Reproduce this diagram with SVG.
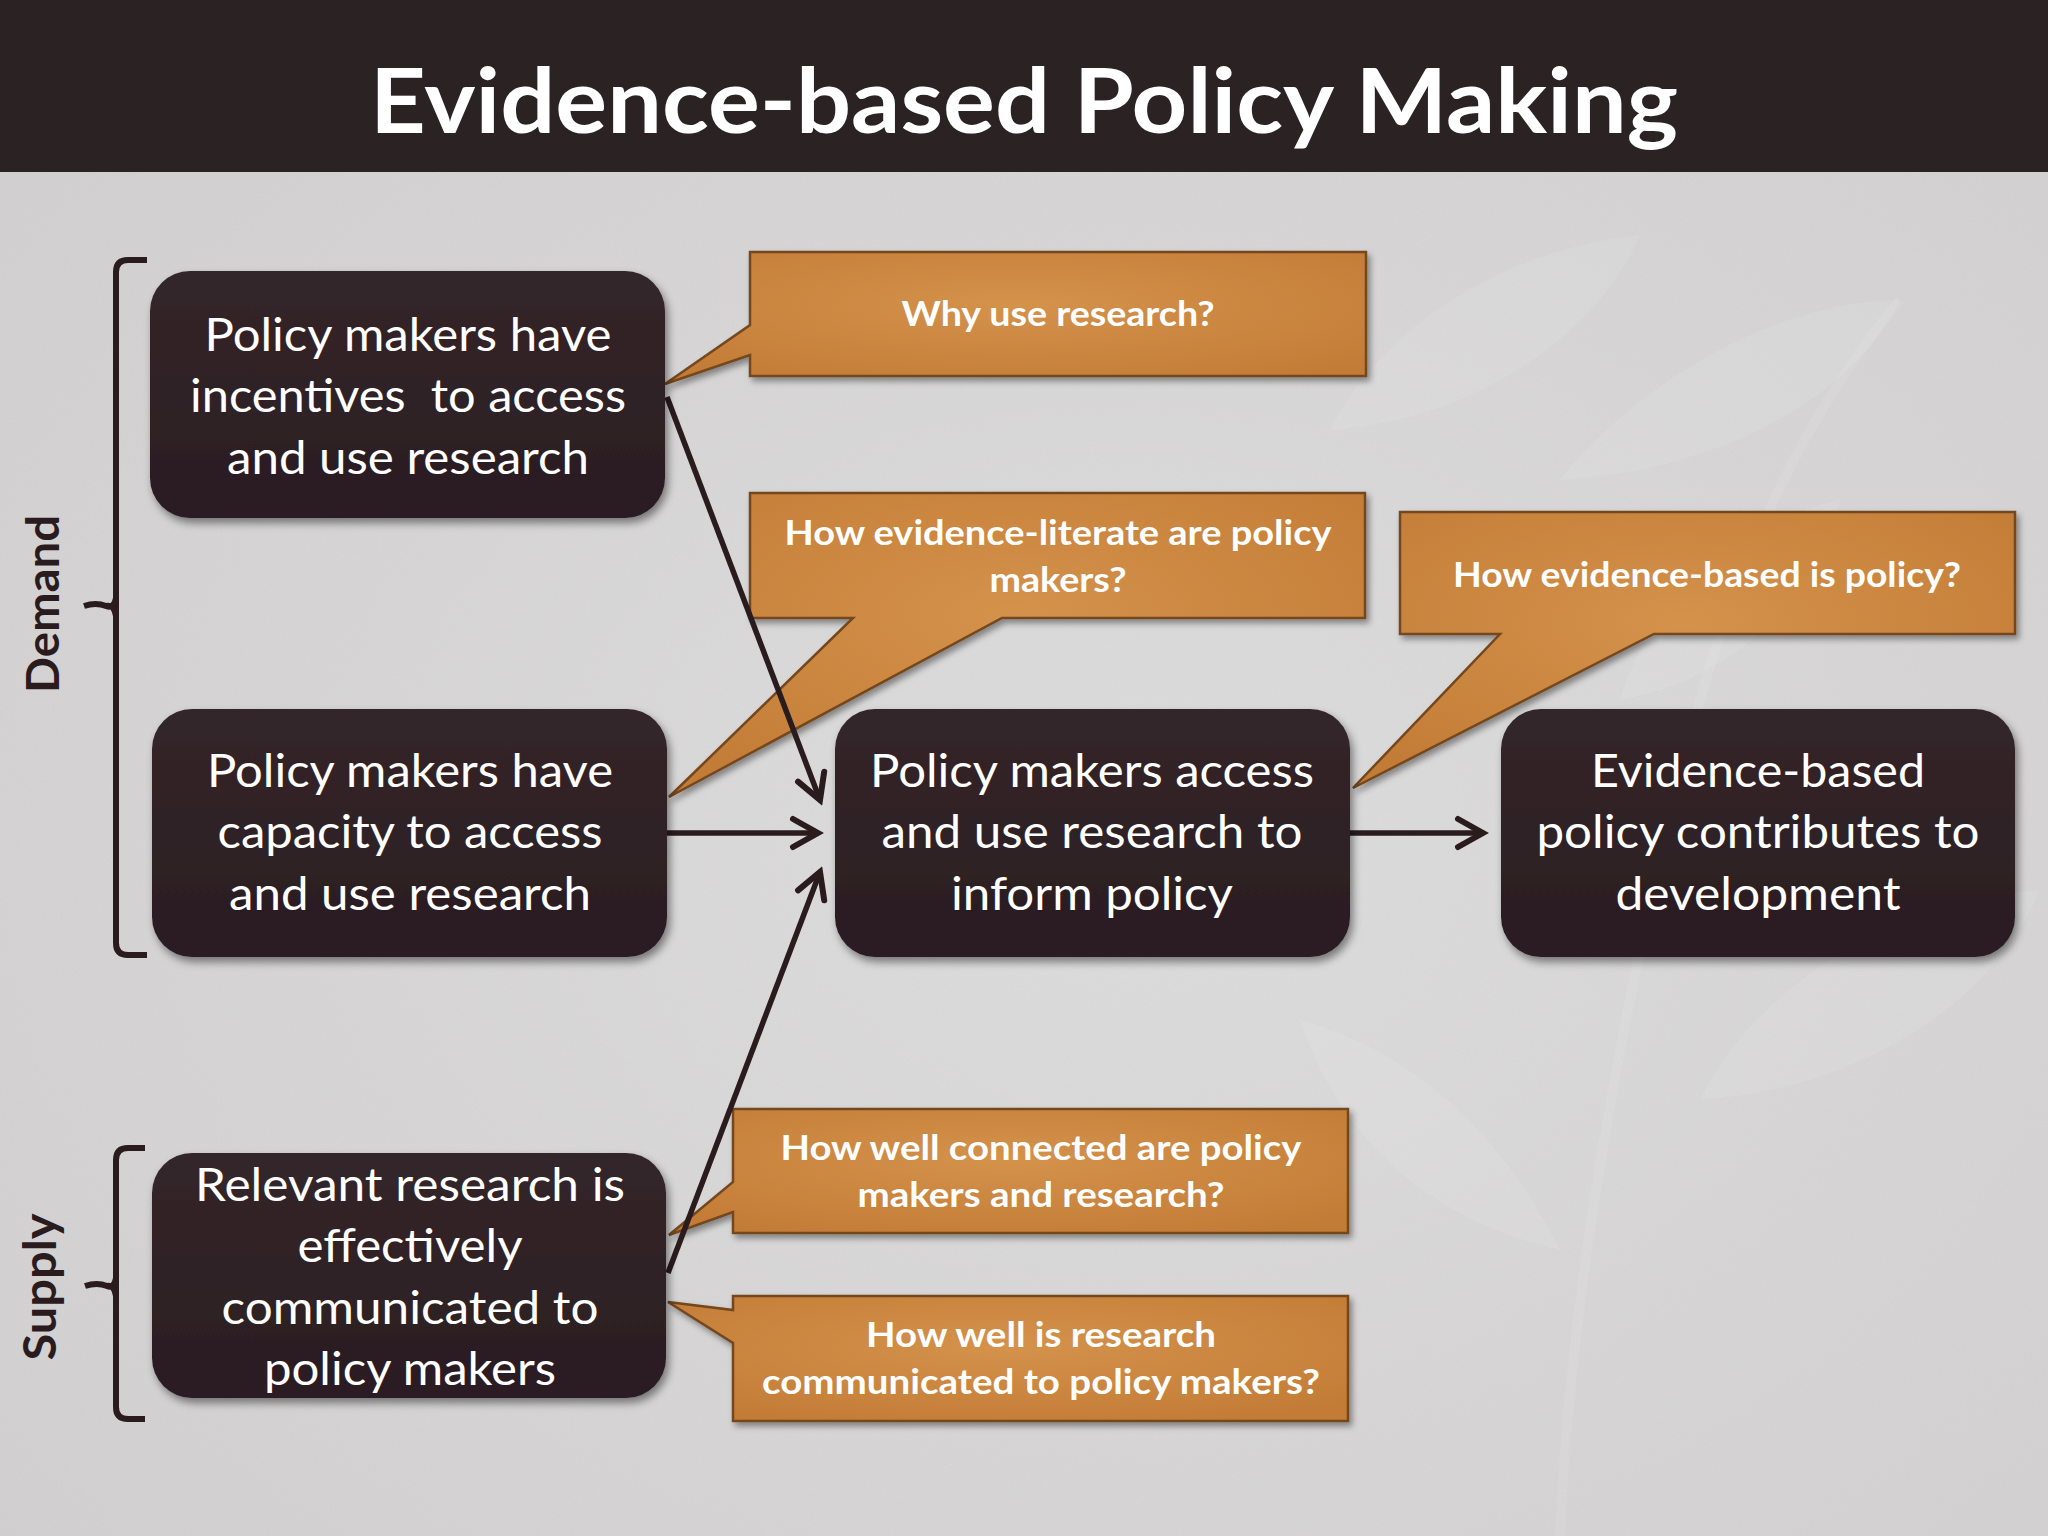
<svg xmlns="http://www.w3.org/2000/svg" width="2048" height="1536" viewBox="0 0 2048 1536">
<defs>
<style>
.node rect{fill:url(#ng);filter:url(#sh)}
.nt{font-family:Lato,"Open Sans","Liberation Sans",sans-serif;font-size:46px;fill:#ffffff;text-anchor:middle}
.co path{fill:url(#og);stroke:#74461e;stroke-width:2.5;stroke-linejoin:miter;filter:url(#sh2)}
.ct{font-family:Lato,"Open Sans","Liberation Sans",sans-serif;font-size:35px;font-weight:bold;fill:#ffffff;text-anchor:middle}
.conn line{stroke:#2a1b1e;stroke-width:5.5;fill:none;marker-end:url(#ah)}
.br path{stroke:#2a1b1e;stroke-width:6;fill:none;stroke-linecap:butt}
.side{font-family:Lato,"Open Sans","Liberation Sans",sans-serif;font-size:46px;font-weight:bold;fill:#2a1b1e;text-anchor:middle}
.leaf{fill:#ffffff;opacity:0.09}
</style>
<linearGradient id="ng" x1="0" y1="0" x2="0" y2="1">
<stop offset="0" stop-color="#33262a"/>
<stop offset="1" stop-color="#2a1d21"/>
</linearGradient>
<radialGradient id="og" cx="0.5" cy="0.4" r="0.7">
<stop offset="0" stop-color="#d4924b"/>
<stop offset="1" stop-color="#c27b35"/>
</radialGradient>
<radialGradient id="bg" cx="0.55" cy="0.55" r="0.75">
<stop offset="0" stop-color="#dad9d9"/>
<stop offset="1" stop-color="#cdcbcb"/>
</radialGradient>
<filter id="sh" x="-10%" y="-10%" width="125%" height="130%">
<feDropShadow dx="3" dy="5" stdDeviation="4" flood-color="#000" flood-opacity="0.45"/>
</filter>
<filter id="sh2" x="-10%" y="-10%" width="125%" height="130%">
<feDropShadow dx="3" dy="4" stdDeviation="3" flood-color="#000" flood-opacity="0.4"/>
</filter>
<filter id="tex" x="0" y="0" width="100%" height="100%">
<feTurbulence type="fractalNoise" baseFrequency="0.9" numOctaves="2" seed="3"/>
<feColorMatrix type="matrix" values="0 0 0 0 1  0 0 0 0 1  0 0 0 0 1  0 0 0 0.35 0"/>
</filter>
<marker id="ah" viewBox="-32 -20 38 40" markerWidth="38" markerHeight="40" refX="0" refY="0" orient="auto" markerUnits="userSpaceOnUse">
<path d="M-25,-14 L0,0 L-25,14" fill="none" stroke="#2a1b1e" stroke-width="6" stroke-linecap="round" stroke-linejoin="miter"/>
</marker>
</defs>

<rect x="0" y="0" width="2048" height="1536" fill="url(#bg)"/>
<rect x="0" y="0" width="2048" height="1536" filter="url(#tex)" opacity="0.35"/>

<g id="plant">
<path class="leaf" d="M1330,430 C1380,330 1500,250 1640,235 C1600,330 1480,420 1330,430 Z"/>
<path class="leaf" d="M1560,480 C1640,380 1780,300 1900,300 C1850,400 1720,470 1560,480 Z"/>
<path class="leaf" d="M1620,700 C1650,600 1740,520 1840,500 C1820,600 1730,680 1620,700 Z"/>
<path class="leaf" d="M1700,1100 C1760,980 1900,900 2040,890 C1990,1010 1850,1090 1700,1100 Z"/>
<path class="leaf" d="M1560,1250 C1500,1130 1410,1050 1300,1020 C1340,1140 1430,1220 1560,1250 Z"/>
<path d="M1560,1536 C1570,1300 1620,1000 1700,700 C1740,560 1800,420 1900,300" fill="none" stroke="#ffffff" stroke-width="10" opacity="0.08"/>
</g>

<g id="title">
<rect x="0" y="0" width="2048" height="172" fill="#2b2224"/>
<text x="1024" y="133" font-family="Lato,'Open Sans','Liberation Sans',sans-serif" font-size="90" font-weight="bold" fill="#ffffff" text-anchor="middle" textLength="1308" lengthAdjust="spacingAndGlyphs">Evidence-based Policy Making</text>
</g>

<g id="brackets" class="br">
<path d="M147,260 H128 Q116,260 116,272 V943 Q116,955 128,955 H147"/>
<path d="M84,606 Q96,602 106,606 Q114,609 116,598 M106,606 Q114,604 116,616"/>
<path d="M145,1148 H128 Q116,1148 116,1160 V1407 Q116,1419 128,1419 H145"/>
<path d="M85,1286 Q97,1282 107,1286 Q114,1289 116,1278 M107,1286 Q114,1284 116,1296"/>
</g>
<g id="label-demand"><text class="side" transform="translate(59,604) rotate(-90)" textLength="178" lengthAdjust="spacingAndGlyphs">Demand</text></g>
<g id="label-supply"><text class="side" transform="translate(56,1287) rotate(-90)" textLength="147" lengthAdjust="spacingAndGlyphs">Supply</text></g>

<g id="callout-why" class="co">
<path d="M750,252 H1366 V376 H750 V355 L665,384 L750,325 Z"/>
<text class="ct" x="1058" y="326" textLength="313" lengthAdjust="spacingAndGlyphs">Why use research?</text>
</g>
<g id="callout-literate" class="co">
<path d="M750,493 H1365 V618 H1002 L669,797 L853,618 H750 Z"/>
<text class="ct" x="1058" y="545" textLength="547" lengthAdjust="spacingAndGlyphs">How evidence-literate are policy</text>
<text class="ct" x="1058" y="592" textLength="137" lengthAdjust="spacingAndGlyphs">makers?</text>
</g>
<g id="callout-based" class="co">
<path d="M1400,512 H2015 V634 H1654 L1353,788 L1500,634 H1400 Z"/>
<text class="ct" x="1707" y="587" textLength="508" lengthAdjust="spacingAndGlyphs">How evidence-based is policy?</text>
</g>
<g id="callout-connected" class="co">
<path d="M733,1109 H1348 V1233 H733 V1212 L669,1235 L733,1182 Z"/>
<text class="ct" x="1041" y="1160" textLength="521" lengthAdjust="spacingAndGlyphs">How well connected are policy</text>
<text class="ct" x="1041" y="1207" textLength="367" lengthAdjust="spacingAndGlyphs">makers and research?</text>
</g>
<g id="callout-communicated" class="co">
<path d="M733,1296 H1348 V1421 H733 V1343 L668,1302 L733,1310 Z"/>
<text class="ct" x="1041" y="1347" textLength="350" lengthAdjust="spacingAndGlyphs">How well is research</text>
<text class="ct" x="1041" y="1394" textLength="558" lengthAdjust="spacingAndGlyphs">communicated to policy makers?</text>
</g>

<g id="connectors" class="conn">
<line x1="667" y1="397" x2="820" y2="800"/>
<line x1="667" y1="833" x2="818" y2="833"/>
<line x1="668" y1="1273" x2="820" y2="872"/>
<line x1="1350" y1="833" x2="1483" y2="833"/>
</g>

<g id="node-incentives" class="node">
<rect x="150" y="271" width="515" height="247" rx="40"/>
<text class="nt" x="408" y="351" textLength="407" lengthAdjust="spacingAndGlyphs">Policy makers have</text>
<text class="nt" x="408" y="412" textLength="436" lengthAdjust="spacingAndGlyphs" xml:space="preserve">incentives  to access</text>
<text class="nt" x="408" y="474" textLength="362" lengthAdjust="spacingAndGlyphs">and use research</text>
</g>
<g id="node-capacity" class="node">
<rect x="152" y="709" width="515" height="248" rx="40"/>
<text class="nt" x="410" y="787" textLength="406" lengthAdjust="spacingAndGlyphs">Policy makers have</text>
<text class="nt" x="410" y="848" textLength="385" lengthAdjust="spacingAndGlyphs">capacity to access</text>
<text class="nt" x="410" y="910" textLength="362" lengthAdjust="spacingAndGlyphs">and use research</text>
</g>
<g id="node-access" class="node">
<rect x="835" y="709" width="515" height="248" rx="40"/>
<text class="nt" x="1092" y="787" textLength="444" lengthAdjust="spacingAndGlyphs">Policy makers access</text>
<text class="nt" x="1092" y="848" textLength="421" lengthAdjust="spacingAndGlyphs">and use research to</text>
<text class="nt" x="1092" y="910" textLength="282" lengthAdjust="spacingAndGlyphs">inform policy</text>
</g>
<g id="node-development" class="node">
<rect x="1501" y="709" width="514" height="248" rx="40"/>
<text class="nt" x="1758" y="787" textLength="334" lengthAdjust="spacingAndGlyphs">Evidence-based</text>
<text class="nt" x="1758" y="848" textLength="443" lengthAdjust="spacingAndGlyphs">policy contributes to</text>
<text class="nt" x="1758" y="910" textLength="285" lengthAdjust="spacingAndGlyphs">development</text>
</g>
<g id="node-supply" class="node">
<rect x="152" y="1153" width="514" height="245" rx="40"/>
<text class="nt" x="410" y="1201" textLength="430" lengthAdjust="spacingAndGlyphs">Relevant research is</text>
<text class="nt" x="410" y="1262" textLength="225" lengthAdjust="spacingAndGlyphs">effectively</text>
<text class="nt" x="410" y="1324" textLength="377" lengthAdjust="spacingAndGlyphs">communicated to</text>
<text class="nt" x="410" y="1385" textLength="292" lengthAdjust="spacingAndGlyphs">policy makers</text>
</g>
</svg>
